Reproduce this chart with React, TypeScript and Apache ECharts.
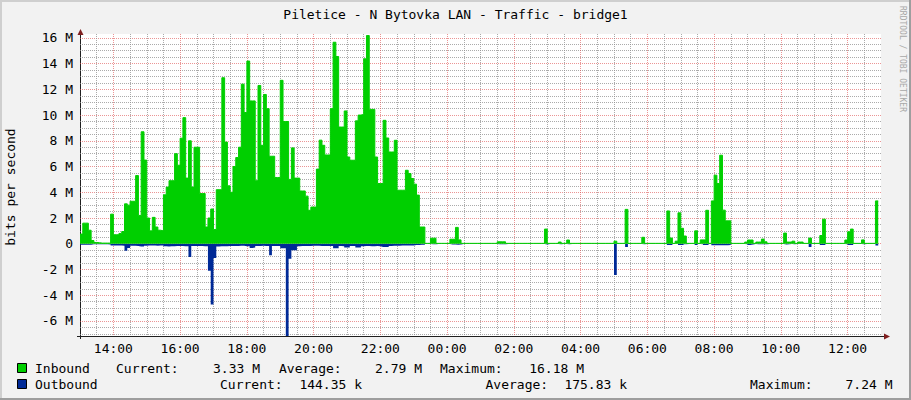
import React, { useEffect, useRef } from "react";
import * as echarts from "echarts";

// 5-minute steps starting 13:00, values in Mbit/s
const STEP_MIN = 5;
const START_HOUR = 13;

const inboundM = [
  0.75, 1.6, 1.6, 1.05, 0.25, 0.1, 0.08, 0.05, 0.05, 0.05, 0.05, 2.3,
  0.7, 0.7, 0.8, 0.95, 3.1, 3.0, 3.3, 3.3, 5.3, 2.2, 8.7, 6.5,
  2.0, 1.0, 2.05, 1.3, 1.05, 1.0, 3.8, 4.4, 4.9, 4.9, 7.0, 6.1,
  8.2, 9.8, 5.1, 8.0, 4.4, 7.5, 7.5, 3.9, 3.9, 1.3, 2.0, 2.7,
  1.1, 4.2, 4.2, 12.9, 7.9, 4.5, 4.0, 6.0, 6.7, 7.5, 12.4, 10.2,
  14.2, 11.1, 11.1, 4.9, 12.3, 7.65, 11.6, 10.5, 6.8, 6.8, 5.15, 5.15,
  12.7, 9.5, 9.5, 5.0, 7.45, 5.1, 5.1, 4.1, 4.1, 3.7, 2.6, 2.85,
  2.85, 5.8, 8.05, 7.65, 6.9, 6.9, 10.5, 15.66, 14.55, 9.07, 9.07, 10.32,
  6.74, 6.49, 6.49, 9.55, 10.0, 10.05, 14.37, 16.18, 10.44, 10.44, 6.74, 4.68,
  4.68, 9.59, 8.22, 7.13, 7.13, 8.04, 4.16, 4.16, 4.16, 5.71, 5.46, 5.07,
  4.63, 3.78, 1.3, 1.3, 0.03, 0.03, 0.43, 0.43, 0.03, 0.03, 0.03, 0.03,
  0.03, 0.35, 0.35, 1.27, 0.3, 0.03, 0.03, 0.03, 0.03, 0.03, 0.03, 0.03,
  0.03, 0.03, 0.03, 0.03, 0.03, 0.03, 0.15, 0.15, 0.15, 0.03, 0.03, 0.03,
  0.03, 0.03, 0.03, 0.03, 0.03, 0.03, 0.03, 0.03, 0.03, 0.03, 0.03, 1.14,
  0.03, 0.03, 0.03, 0.03, 0.13, 0.03, 0.03, 0.29, 0.03, 0.03, 0.03, 0.03,
  0.03, 0.03, 0.03, 0.03, 0.03, 0.03, 0.03, 0.03, 0.03, 0.03, 0.03, 0.03,
  0.2, 0.03, 0.03, 0.03, 2.67, 0.03, 0.03, 0.03, 0.03, 0.03, 0.5, 0.03,
  0.03, 0.03, 0.03, 0.03, 0.03, 0.03, 0.03, 2.55, 0.44, 0.03, 0.2, 2.4,
  1.2, 0.6, 0.03, 0.03, 0.03, 1.0, 0.03, 0.3, 0.3, 2.6, 0.03, 3.33,
  5.33, 4.68, 6.88, 2.61, 1.78, 1.78, 0.03, 0.03, 0.03, 0.03, 0.03, 0.13,
  0.29, 0.29, 0.03, 0.13, 0.13, 0.36, 0.15, 0.03, 0.03, 0.03, 0.03, 0.03,
  0.03, 0.83, 0.13, 0.13, 0.2, 0.03, 0.13, 0.13, 0.03, 0.03, 0.44, 0.03,
  0.03, 0.03, 0.64, 1.91, 0.03, 0.03, 0.03, 0.03, 0.03, 0.03, 0.03, 0.29,
  0.93, 1.14, 0.03, 0.03, 0.03, 0.3, 0.03, 0.03, 0.03, 0.03, 3.33,
];

const outboundM = [
  0.07, 0.07, 0.07, 0.07, 0.03, 0.03, 0.03, 0.03, 0.03, 0.03, 0.05, 0.13,
  0.13, 0.13, 0.13, 0.15, 0.55, 0.33, 0.15, 0.15, 0.17, 0.22, 0.22, 0.15,
  0.13, 0.13, 0.13, 0.15, 0.13, 0.13, 0.2, 0.22, 0.2, 0.2, 0.17, 0.17,
  0.17, 0.2, 0.2, 1.03, 0.17, 0.17, 0.17, 0.17, 0.2, 0.2, 2.1, 4.73,
  1.1, 0.22, 0.2, 0.2, 0.2, 0.17, 0.17, 0.17, 0.17, 0.15, 0.15, 0.2,
  0.2, 0.33, 0.3, 0.17, 0.17, 0.15, 0.17, 0.17, 0.9, 0.17, 0.17, 0.17,
  0.35, 0.35, 7.24, 1.16, 0.5, 0.5, 0.2, 0.17, 0.17, 0.17, 0.17, 0.15,
  0.15, 0.15, 0.17, 0.17, 0.17, 0.17, 0.17, 0.35, 0.35, 0.17, 0.2, 0.3,
  0.3, 0.17, 0.17, 0.3, 0.3, 0.2, 0.17, 0.17, 0.2, 0.2, 0.17, 0.2,
  0.25, 0.25, 0.25, 0.17, 0.15, 0.15, 0.15, 0.13, 0.13, 0.13, 0.13, 0.13,
  0.1, 0.1, 0.08, 0.08, 0.02, 0.02, 0.03, 0.03, 0.02, 0.02, 0.02, 0.02,
  0.02, 0.06, 0.06, 0.08, 0.05, 0.02, 0.02, 0.02, 0.02, 0.02, 0.02, 0.02,
  0.02, 0.02, 0.02, 0.02, 0.02, 0.02, 0.03, 0.03, 0.03, 0.02, 0.02, 0.02,
  0.02, 0.02, 0.02, 0.02, 0.02, 0.02, 0.02, 0.02, 0.02, 0.02, 0.02, 0.05,
  0.02, 0.02, 0.02, 0.02, 0.03, 0.02, 0.02, 0.04, 0.02, 0.02, 0.02, 0.02,
  0.02, 0.02, 0.02, 0.02, 0.02, 0.02, 0.02, 0.02, 0.02, 0.02, 0.02, 0.02,
  2.43, 0.02, 0.02, 0.02, 0.25, 0.02, 0.02, 0.02, 0.02, 0.02, 0.04, 0.02,
  0.02, 0.02, 0.02, 0.02, 0.02, 0.02, 0.02, 0.1, 0.1, 0.02, 0.02, 0.1,
  0.1, 0.04, 0.02, 0.02, 0.02, 0.1, 0.02, 0.04, 0.1, 0.1, 0.02, 0.12,
  0.12, 0.12, 0.12, 0.12, 0.12, 0.1, 0.02, 0.02, 0.02, 0.02, 0.02, 0.03,
  0.1, 0.06, 0.02, 0.03, 0.03, 0.04, 0.03, 0.02, 0.02, 0.02, 0.02, 0.02,
  0.02, 0.06, 0.03, 0.02, 0.03, 0.02, 0.02, 0.02, 0.02, 0.02, 0.25, 0.02,
  0.02, 0.02, 0.1, 0.1, 0.02, 0.02, 0.02, 0.02, 0.02, 0.02, 0.02, 0.04,
  0.1, 0.1, 0.02, 0.02, 0.02, 0.04, 0.02, 0.02, 0.02, 0.02, 0.144,
];

const timeTickMinutes = [60, 180, 300, 420, 540, 660, 780, 900, 1020, 1140, 1260, 1380];
const timeTickLabels = ["14:00", "16:00", "18:00", "20:00", "22:00", "00:00", "02:00", "04:00", "06:00", "08:00", "10:00", "12:00"];
const yTickValuesM = [-6, -4, -2, 0, 2, 4, 6, 8, 10, 12, 14, 16];
const yTickLabels = ["-6 M", "-4 M", "-2 M", "0", "2 M", "4 M", "6 M", "8 M", "10 M", "12 M", "14 M", "16 M"];

const titleText = "Piletice - N Bytovka LAN - Traffic - bridge1";
const legendRows = [
  { name: "Inbound", color: "#00CF00", cur: "3.33 M", avg: "2.79 M", max: "16.18 M" },
  { name: "Outbound", color: "#002A97", cur: "144.35 k", avg: "175.83 k", max: "7.24 M" },
];

const MONO = '"DejaVu Sans Mono", monospace';
const FONT13 = '13px "DejaVu Sans Mono", monospace';

function toSeries(vals: number[], sign: number) {
  const d: number[][] = vals.map((v, i) => [i * STEP_MIN, sign * v * 1e6]);
  d.push([vals.length * STEP_MIN, sign * vals[vals.length - 1] * 1e6]);
  return d;
}

function txt(text: string, x: number, y: number, align: string, extra: any = {}) {
  return {
    type: "text",
    x,
    y,
    silent: true,
    ...extra,
    style: {
      text,
      font: FONT13,
      fill: "#000",
      align,
      verticalAlign: "middle",
      textAlign: align,
      textVerticalAlign: "middle",
      ...(extra.style || {}),
    },
  };
}

export default function App() {
  const ref = useRef<HTMLDivElement>(null);
  useEffect(() => {
    const chart = echarts.init(ref.current!, null, { renderer: "svg", width: 911, height: 400 });

    const minorX: number[] = [];
    for (let m = 30; m < 1440; m += 30) if (!timeTickMinutes.includes(m)) minorX.push(m);
    const yMajor = yTickValuesM.map((v) => v * 1e6);
    const minorY: number[] = [];
    for (let v = -7; v <= 16.001; v += 0.5) if (Math.abs(v % 2) > 1e-9) minorY.push(v * 1e6);

    const labelFor = (val: number) => {
      const i = timeTickMinutes.indexOf(Math.round(val));
      return i >= 0 ? timeTickLabels[i] : "";
    };
    const yLabelFor = (val: number) => {
      const i = yMajor.findIndex((v) => Math.abs(v - val) < 1);
      return i >= 0 ? yTickLabels[i] : "";
    };

    const grid = { left: 80, top: 34, width: 801, height: 302, show: true, backgroundColor: "#FFFFFF", borderWidth: 0 };
    const minorLine = { show: true, lineStyle: { color: "rgba(143,143,143,0.75)", width: 1, type: [1, 1] } };
    const majorLine = { show: true, lineStyle: { color: "rgba(222,79,79,0.6)", width: 1, type: [1, 1] } };

    const graphics: any[] = [
      { type: "rect", shape: { x: 0, y: 0, width: 911, height: 2 }, style: { fill: "#CFCFCF" }, silent: true },
      { type: "rect", shape: { x: 0, y: 0, width: 2, height: 400 }, style: { fill: "#CFCFCF" }, silent: true },
      { type: "rect", shape: { x: 909, y: 0, width: 2, height: 400 }, style: { fill: "#9E9E9E" }, silent: true },
      { type: "rect", shape: { x: 0, y: 398, width: 911, height: 2 }, style: { fill: "#9E9E9E" }, silent: true },
      txt(titleText, 455.5, 14, "center"),
      txt("bits per second", 10, 187, "center", { rotation: Math.PI / 2 }),
      txt("RRDTOOL / TOBI OETIKER", 902.5, 6, "left", {
        rotation: -Math.PI / 2,
        style: { font: '8px "DejaVu Sans Mono", monospace', fill: "#A8A8A8" },
      }),
      { type: "line", shape: { x1: 80.5, y1: 30, x2: 80.5, y2: 339 }, style: { stroke: "#1F1F1F", lineWidth: 1 }, silent: true },
      { type: "line", shape: { x1: 77, y1: 336.5, x2: 886, y2: 336.5 }, style: { stroke: "#1F1F1F", lineWidth: 1 }, silent: true },
      { type: "polygon", shape: { points: [[77.5, 35], [83.5, 35], [80.5, 29]] }, style: { fill: "#801F1F" }, silent: true },
      { type: "polygon", shape: { points: [[884, 333.5], [884, 339.5], [890, 336.5]] }, style: { fill: "#801F1F" }, silent: true },
    ];

    const rowY = [368, 384];
    const colPos = [
      { lab: 116, val: 260 },
      { lab: 279, val: 422 },
      { lab: 440, val: 584 },
    ];
    const colPos2 = [
      { lab: 220, val: 362 },
      { lab: 485.5, val: 627 },
      { lab: 750, val: 892.5 },
    ];
    legendRows.forEach((r, k) => {
      const y = rowY[k];
      graphics.push({
        type: "rect",
        shape: { x: 17.5, y: y - 4.5, width: 9, height: 9 },
        style: { fill: r.color, stroke: "#000", lineWidth: 1 },
        silent: true,
      });
      graphics.push(txt(r.name, 35, y, "left"));
      const cols = k === 0 ? colPos : colPos2;
      const labs = ["Current:", "Average:", "Maximum:"];
      const vals = [r.cur, r.avg, r.max];
      cols.forEach((c, j) => {
        graphics.push(txt(labs[j], c.lab, y, "left"));
        graphics.push(txt(vals[j], c.val, y, "right"));
      });
    });

    const axisText = { color: "#000", fontFamily: MONO, fontSize: 13 };

    chart.setOption({
      animation: false,
      backgroundColor: "#F2F2F2",
      grid,
      xAxis: [
        {
          type: "value", min: 0, max: 1440, position: "bottom",
          axisLine: { show: false }, axisLabel: { show: false },
          axisTick: { show: false, customValues: minorX },
          splitLine: minorLine,
        },
        {
          type: "value", min: 0, max: 1440, position: "bottom",
          axisLine: { show: false, onZero: false },
          axisTick: { show: false, customValues: timeTickMinutes },
          axisLabel: { ...axisText, customValues: timeTickMinutes, formatter: labelFor, margin: 6 },
          splitLine: majorLine,
        },
      ],
      yAxis: [
        {
          type: "value", min: -7.17e6, max: 16.3e6, position: "left",
          axisLine: { show: false }, axisLabel: { show: false },
          axisTick: { show: false, customValues: minorY },
          splitLine: minorLine,
        },
        {
          type: "value", min: -7.17e6, max: 16.3e6, position: "left",
          axisLine: { show: false, onZero: false },
          axisTick: { show: false, customValues: yMajor },
          axisLabel: { ...axisText, customValues: yMajor, formatter: yLabelFor, margin: 7 },
          splitLine: majorLine,
        },
      ],
      series: [
        {
          type: "line", name: "Outbound", xAxisIndex: 1, yAxisIndex: 1,
          data: toSeries(outboundM, -1), step: "end", symbol: "none", showSymbol: false,
          lineStyle: { width: 0, color: "#002A97" },
          areaStyle: { color: "#002A97", opacity: 1 },
          z: 2, silent: true,
        },
        {
          type: "line", name: "Inbound", xAxisIndex: 1, yAxisIndex: 1,
          data: toSeries(inboundM, 1), step: "end", symbol: "none", showSymbol: false,
          lineStyle: { width: 1, color: "#00CF00" },
          areaStyle: { color: "#00CF00", opacity: 1 },
          z: 3, silent: true,
        },
      ],
      graphic: graphics,
    });
    return () => chart.dispose();
  }, []);
  return <div ref={ref} style={{ position: "absolute", left: 0, top: 0, width: 911, height: 400 }} />;
}
